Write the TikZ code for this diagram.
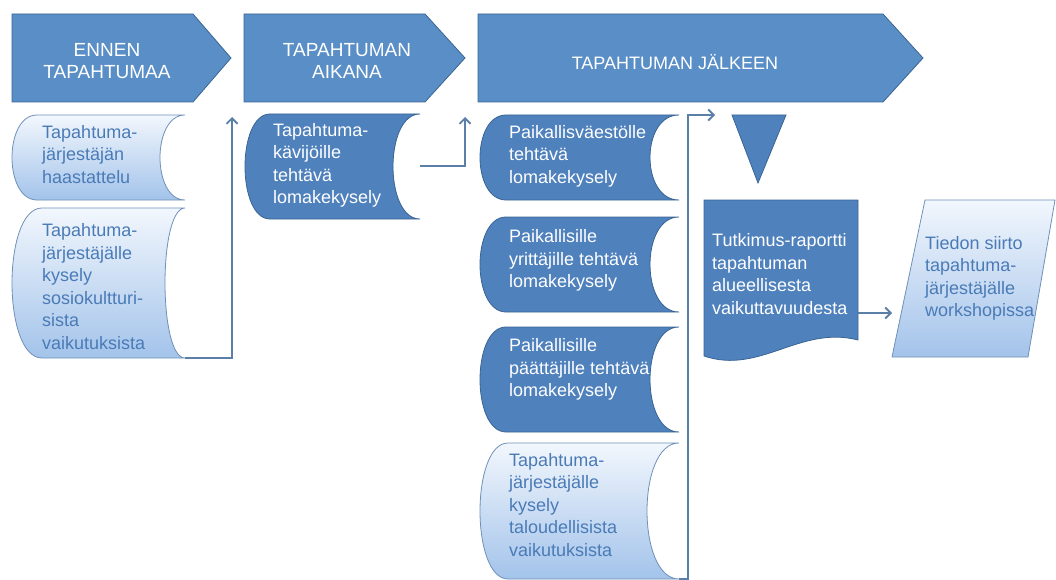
\documentclass[tikz,border=0pt]{standalone}
\usepackage{fontspec}
\setmainfont{Liberation Sans}
\usetikzlibrary{arrows.meta}
\definecolor{bannerblue}{HTML}{5A8EC6}
\definecolor{darkblue}{HTML}{4F81BD}
\definecolor{edgeblue}{HTML}{3A6593}
\definecolor{lighttop}{HTML}{F2F7FD}
\definecolor{lightbot}{HTML}{A3C3EA}
\definecolor{lightedge}{HTML}{6F90B8}
\definecolor{lighttext}{HTML}{4A7BB7}
\definecolor{connblue}{HTML}{5B80A8}
% stored-data outline: #1 style, #2 left, #3 top, #4 right, #5 bottom, #6 left bulge, #7 right depth
\newcommand\storedbox[7]{%
  \path[#1] (#4,#3) -- ({#2+#6},#3)
    .. controls ({#2-#6/3},#3) and ({#2-#6/3},#5) .. ({#2+#6},#5)
    -- (#4,#5)
    .. controls ({#4-4*#7/3},#5) and ({#4-4*#7/3},#3) .. (#4,#3) -- cycle;}
\begin{document}
\begin{tikzpicture}[x=1pt,y=-1pt,
  banner/.style={fill=bannerblue, draw=edgeblue, line width=0.8pt},
  bannertext/.style={text=white, font=\fontsize{19}{22}\selectfont, align=center, inner sep=0},
  darkbox/.style={fill=darkblue, draw=edgeblue, line width=0.8pt},
  lightbox/.style={top color=lighttop, bottom color=lightbot, draw=lightedge, line width=0.8pt},
  darktext/.style={text=white, font=\fontsize{18}{22.5}\selectfont, align=left, inner sep=0, anchor=west},
  lighttextst/.style={text=lighttext, font=\fontsize{18}{22.5}\selectfont, align=left, inner sep=0, anchor=west},
  conn/.style={draw=connblue, line width=1.8pt, -{Straight Barb[length=5.5pt,width=11pt]}}
]
\useasboundingbox (0,0) rectangle (1056,580);

% phase banners
\path[banner] (12,14) -- (193,14) -- (231,58) -- (193,102) -- (12,102) -- cycle;
\node[bannertext] (h1) at (107,61) {ENNEN\\TAPAHTUMAA};
\path[banner] (244,14) -- (425,14) -- (465,58) -- (425,102) -- (244,102) -- cycle;
\node[bannertext] (h2) at (347,61) {TAPAHTUMAN\\AIKANA};
\path[banner] (478,14) -- (883,14) -- (923,58) -- (883,102) -- (478,102) -- cycle;
\node[bannertext, font=\fontsize{18}{22}\selectfont] (h3) at (675,62) {TAPAHTUMAN JÄLKEEN};

% left column
\storedbox{lightbox}{12}{115}{185}{200}{25}{25}
\node[lighttextst] (l1) at (42,154.5) {Tapahtuma-\\järjestäjän\\haastattelu};
\storedbox{lightbox}{12}{208}{185}{358}{30}{20}
\node[lighttextst] (l2) at (42,286.5) {Tapahtuma-\\järjestäjälle\\kysely\\sosiokultturi-\\sista\\vaikutuksista};

% middle column
\storedbox{darkbox}{245}{114}{420}{219}{25}{27}
\node[darktext] (m1) at (273,165.5) {Tapahtuma-\\kävijöille\\tehtävä\\lomakekysely};

% right column
\storedbox{darkbox}{480}{115}{679}{200}{26}{29}
\node[darktext] (r1) at (509,156) {Paikallisväestölle\\tehtävä\\lomakekysely};
\storedbox{darkbox}{480}{217}{679}{312}{26}{29}
\node[darktext] (r2) at (509,260.5) {Paikallisille\\yrittäjille tehtävä\\lomakekysely};
\storedbox{darkbox}{480}{327}{679}{432}{26}{29}
\node[darktext] (r3) at (509,369.5) {Paikallisille\\päättäjille tehtävä\\lomakekysely};
\storedbox{lightbox}{480}{443}{679}{579}{28}{32}
\node[lighttextst] (r4) at (509,505) {Tapahtuma-\\järjestäjälle\\kysely\\taloudellisista\\vaikutuksista};

% merge triangle
\path[darkbox] (732,115) -- (786,115) -- (758,183) -- cycle;

% document
\path[darkbox] (704,200) -- (858,200) -- (858,340)
  .. controls (800,325) and (760,375) .. (704,356) -- cycle;
\node[darktext] (doc) at (712,274) {Tutkimus-raportti\\tapahtuman\\alueellisesta\\vaikuttavuudesta};

% parallelogram
\path[lightbox] (925,200) -- (1055,200) -- (1028,357) -- (892,357) -- cycle;
\node[lighttextst] (par) at (925,278.5) {Tiedon siirto\\tapahtuma-\\järjestäjälle\\workshopissa};

% connector end points
\coordinate (l2out) at (185,358);
\coordinate (up1) at (232,117);
\coordinate (mout) at (420,166);
\coordinate (up2) at (465,117);
\coordinate (r4out) at (679,579);
\coordinate (up3) at (715,115);
\coordinate (docout) at (858,313);
\coordinate (parin) at (892,313);

\draw[conn] (l2out) -| (up1);
\draw[conn] (mout) -| (up2);
\draw[conn] (r4out) -- ++(9,0) |- (up3);
\draw[conn] (docout) -- (parin);
\end{tikzpicture}
\end{document}
